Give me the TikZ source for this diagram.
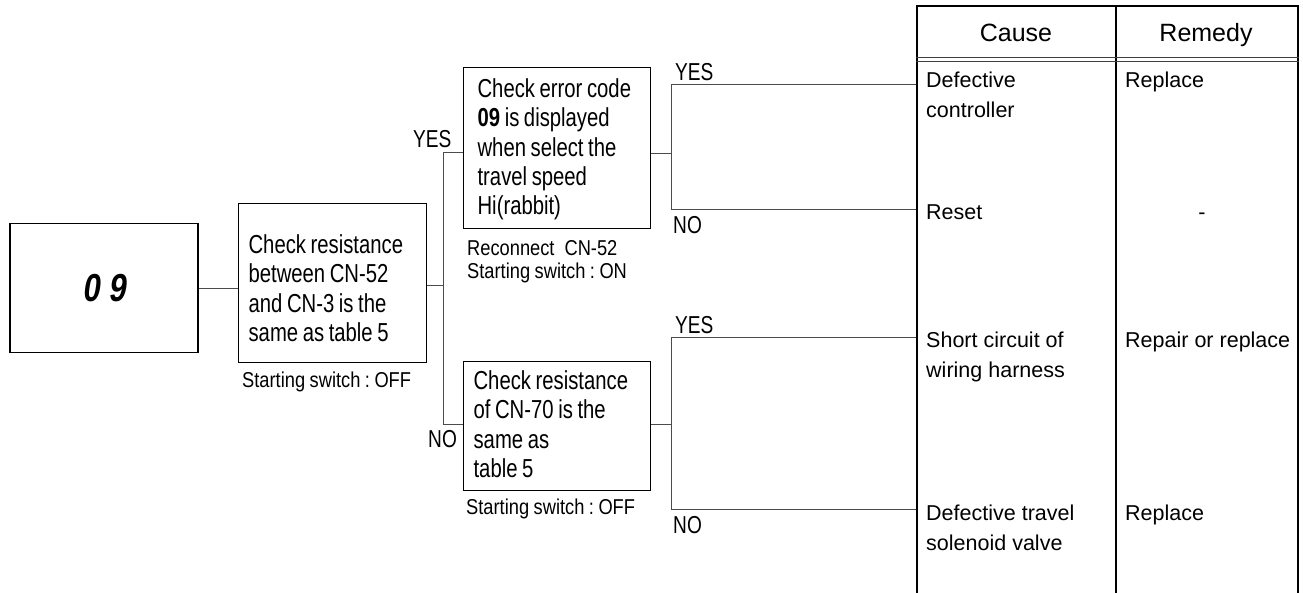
\documentclass[tikz,border=0pt]{standalone}
\usepackage{fontspec}
\setmainfont{Liberation Sans}
\newfontfamily\condfont[FakeStretch=0.78]{Liberation Sans}
\newfontfamily\notefam[FakeStretch=0.85]{Liberation Sans}
\newfontfamily\segfont[FakeStretch=0.8,FakeSlant=0.15]{Liberation Sans}
\DeclareRobustCommand\myboxfont{\condfont\fontsize{26}{29.3}\selectfont}
\DeclareRobustCommand\mynotefont{\notefam\fontsize{21.5}{23.5}\selectfont}
\begin{document}
\begin{tikzpicture}[x=1pt,y=-1pt,
  box/.style={draw=black,line width=1.2pt,rectangle},
  tbox/.style={box,anchor=north west,inner ysep=0pt,align=left,font=\myboxfont,
    execute at begin node={\frenchspacing\spaceskip=4.6pt\relax}},
  conn/.style={draw=black!70,line width=1pt},
  note/.style={font=\mynotefont,anchor=base west,
    inner sep=0pt,text width=220pt,align=left,
    execute at begin node={\frenchspacing\spaceskip=4.5pt\relax}},
  yn/.style={font=\condfont\fontsize{24.5}{24}\selectfont,anchor=base west,inner sep=0pt},
  cell/.style={font=\fontsize{21.5}{30.5}\selectfont,anchor=base west,inner sep=0pt,
    text width=185pt,align=left,execute at begin node={\frenchspacing\spaceskip=6pt\relax}},
  head/.style={font=\fontsize{25}{25}\selectfont,anchor=base,inner sep=0pt},
  tline/.style={draw=black,line width=1.5pt},
  hline/.style={draw=black!75,line width=1pt}]
\useasboundingbox (0,0) rectangle (1303,592);

% boxes
\node[box,minimum width=188pt,minimum height=129pt,
  font=\segfont\bfseries\fontsize{39}{39}\selectfont] (b1) at (104,288) {0\hspace{9pt}9};
\node[tbox,inner xsep=10pt,text width=168pt,text height=50pt,text depth=109pt] (b2) at (238,203)
  {\mbox{Check resistance}\\\mbox{between CN-52}\\\mbox{and CN-3 is the}\\\mbox{same as table 5}};
\node[tbox,inner xsep=14pt,text width=159pt,text height=30pt,text depth=131pt] (b3) at (463,67)
  {\mbox{Check error code}\\\mbox{\textbf{09} is displayed}\\\mbox{when select the}\\\mbox{travel speed}\\\mbox{Hi(rabbit)}};
\node[tbox,inner xsep=10pt,text width=167pt,text height=28pt,text depth=101pt] (b4) at (463,361)
  {\mbox{Check resistance}\\\mbox{of CN-70 is the}\\\mbox{same as}\\\mbox{table 5}};

% notes under boxes
\node[note] (n2) at (242,387) {Starting switch : OFF};
\node[note] (n3) at (467,255) {\mbox{Reconnect}\hspace{10pt}\mbox{CN-52}\\Starting switch : ON};
\node[note] (n4) at (466,514) {Starting switch : OFF};

% table
\node[tline,anchor=north west,inner sep=0pt,minimum width=381pt,minimum height=600pt] (tbl) at (916,5) {};
\coordinate (mt) at (1116,5);
\coordinate (mb) at (1116,610);
\draw[tline] (mt) -- (mb);
\coordinate (h1) at (0,57);
\coordinate (h2) at (0,61);
\draw[hline] (tbl.west |- h1) -- (tbl.east |- h1);
\draw[hline] (tbl.west |- h2) -- (tbl.east |- h2);
\node[head] (hc) at (1016,41) {Cause};
\node[head] (hr) at (1206,41) {Remedy};

\node[cell] (c1) at (926,87) {Defective\\controller};
\node[cell] (r1) at (1125,87) {Replace};
\node[cell] (c2) at (926,219) {Reset};
\node[font=\fontsize{21.5}{21.5}\selectfont,anchor=base,inner sep=0pt] (r2) at (1202,219) {-};
\node[cell] (c3) at (926,347) {Short circuit of\\wiring harness};
\node[cell] (r3) at (1125,347) {Repair or replace};
\node[cell] (c4) at (926,520) {Defective travel\\solenoid valve};
\node[cell] (r4) at (1125,520) {Replace};

% connectors
\coordinate (j1) at (443,285);
\coordinate (ya) at (443,152);
\coordinate (na) at (443,424);
\draw[conn] (b1.east) -- (b1.east -| b2.west);
\draw[conn] (b2.east |- j1) -- (j1);
\draw[conn] (b3.west |- ya) -- (ya) -- (na) -- (b4.west |- na);

\coordinate (j2) at (671,153);
\coordinate (yb) at (671,84);
\coordinate (nb) at (671,209);
\draw[conn] (b3.east |- j2) -- (j2);
\draw[conn] (tbl.west |- yb) -- (yb) -- (nb) -- (tbl.west |- nb);

\coordinate (j3) at (671,424);
\coordinate (yc) at (671,337);
\coordinate (nc) at (671,509);
\draw[conn] (b4.east |- j3) -- (j3);
\draw[conn] (tbl.west |- yc) -- (yc) -- (nc) -- (tbl.west |- nc);

% YES / NO labels
\node[yn] (l1) at (413,147) {YES};
\node[yn] (l2) at (428,447) {NO};
\node[yn] (l3) at (675,80) {YES};
\node[yn] (l4) at (673,233) {NO};
\node[yn] (l5) at (675,333) {YES};
\node[yn] (l6) at (673,533) {NO};
\end{tikzpicture}
\end{document}
